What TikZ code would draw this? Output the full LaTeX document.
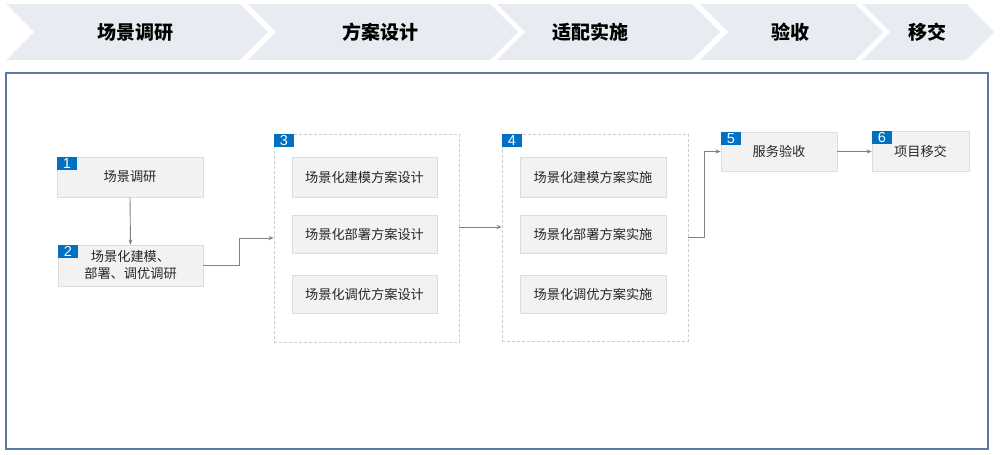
\documentclass[tikz,border=0pt]{standalone}
\usepackage{fontspec}
\setmainfont{Noto Sans CJK SC}
\newfontfamily\cjk{Noto Sans CJK SC}
\newfontfamily\numfont{Liberation Sans}
\usetikzlibrary{arrows.meta}
\definecolor{chev}{HTML}{E8ECF2}
\definecolor{frameblue}{HTML}{5A7AA6}
\definecolor{boxfill}{HTML}{F2F2F2}
\definecolor{boxline}{HTML}{DDDDDD}
\definecolor{badgeblue}{HTML}{0070C0}
\definecolor{arrgray}{HTML}{808080}
\definecolor{txt}{HTML}{262626}
\tikzset{
  chevtext/.style={font=\cjk\bfseries\fontsize{19}{22}\selectfont, text=black},
  stepbox/.style={draw=boxline, fill=boxfill, line width=0.8pt, font=\cjk\fontsize{13.2}{17}\selectfont, text=txt, align=center, inner sep=0pt},
  groupbox/.style={draw=black!20, dashed, dash pattern=on 3pt off 2pt, line width=0.8pt, inner sep=0pt},
  badge/.style={fill=badgeblue, text=white, font=\numfont\fontsize{14.5}{14}\selectfont, minimum width=20pt, minimum height=13pt, text height=10.5pt, text depth=0pt, inner sep=0pt, anchor=north west},
  arr/.style={draw=arrgray, line width=0.9pt, -{Stealth[length=5pt,width=4pt]}}
}
\begin{document}
\begin{tikzpicture}[x=1pt,y=-1pt]
\useasboundingbox (0,0) rectangle (1004,455);
% chevrons
\foreach \a/\b in {6/240, 248/490, 497/692, 700/855, 862/966}{
  \fill[chev] (\a,4) -- (\b,4) -- (\b+28,32) -- (\b,60) -- (\a,60) -- (\a+28,32) -- cycle;
}
\node[chevtext] (h1) at (135,32) {场景调研};
\node[chevtext] (h2) at (380,32) {方案设计};
\node[chevtext] (h3) at (590,32) {适配实施};
\node[chevtext] (h4) at (790,32) {验收};
\node[chevtext] (h5) at (927,32) {移交};
% frame
\draw[frameblue, line width=1.4pt] (6,73) rectangle (988,449);
% boxes
\node[stepbox, minimum width=146pt, minimum height=40pt] (b1) at (130,177) {场景调研};
\node[stepbox, minimum width=145pt, minimum height=41pt] (b2) at (130.5,265.5) {场景化建模、\\部署、调优调研};
\node[groupbox, minimum width=185pt, minimum height=208pt] (g3) at (366.5,238) {};
\node[stepbox, minimum width=145pt, minimum height=40pt] (b3a) at (364.5,177) {场景化建模方案设计};
\node[stepbox, minimum width=145pt, minimum height=38pt] (b3b) at (364.5,234) {场景化部署方案设计};
\node[stepbox, minimum width=145pt, minimum height=38pt] (b3c) at (364.5,294) {场景化调优方案设计};
\node[groupbox, minimum width=186pt, minimum height=207pt] (g4) at (595,237.5) {};
\node[stepbox, minimum width=146pt, minimum height=40pt] (b4a) at (593,177) {场景化建模方案实施};
\node[stepbox, minimum width=146pt, minimum height=38pt] (b4b) at (593,234) {场景化部署方案实施};
\node[stepbox, minimum width=146pt, minimum height=38pt] (b4c) at (593,294) {场景化调优方案实施};
\node[stepbox, minimum width=116pt, minimum height=39pt] (b5) at (779,151.5) {服务验收};
\node[stepbox, minimum width=97pt, minimum height=40pt] (b6) at (920.5,151) {项目移交};
% badges
\node[badge] (n1) at (b1.north west) {1};
\node[badge] (n2) at (b2.north west) {2};
\node[badge] (n3) at (g3.north west) {3};
\node[badge] (n4) at (g4.north west) {4};
\node[badge] (n5) at (b5.north west) {5};
\node[badge] (n6) at (b6.north west) {6};
% connectors
\coordinate (y227) at (0,227);
\draw[arr] (b1.south) -- (b2.north);
\draw[arr] (b2.east) -- ([xshift=36pt]b2.east) |- (g3.west);
\draw[arr] (g3.east |- y227) -- (g4.west |- y227);
\draw[arr] (g4.east) -- ([xshift=16pt]g4.east) |- (b5.west);
\draw[arr] (b5.east) -- (b5.east -| b6.west);
\end{tikzpicture}
\end{document}
